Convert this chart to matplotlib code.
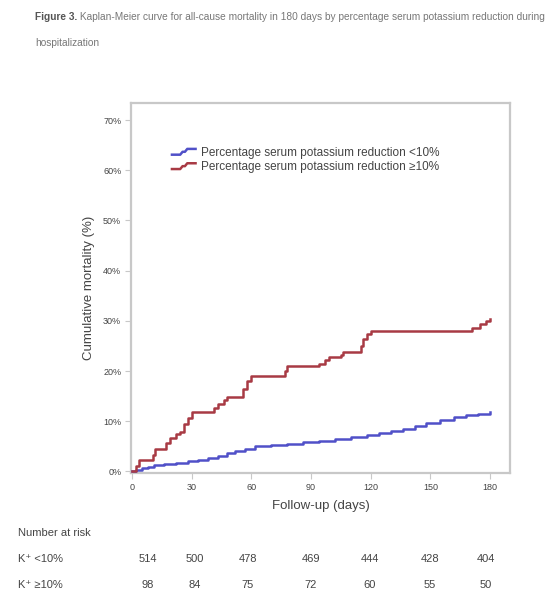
import matplotlib
matplotlib.use("Agg")
import matplotlib.pyplot as plt
from matplotlib.lines import Line2D
from matplotlib.legend_handler import HandlerBase

plt.rcParams['font.family'] = ['Liberation Sans', 'DejaVu Sans']

# Kaplan-Meier cumulative mortality (%) by follow-up day
blue_days = [0, 2, 5, 8, 11, 16, 22, 28, 33, 38, 43, 48, 52, 57, 62, 70, 78, 86, 94, 102,
             110, 118, 124, 130, 136, 142, 148, 155, 162, 168, 174, 180]
blue_pct = [0, 0.3, 0.6, 0.9, 1.2, 1.4, 1.7, 2.0, 2.3, 2.7, 3.1, 3.6, 4.1, 4.5, 5.0, 5.2, 5.5, 5.8, 6.1, 6.5,
            6.9, 7.3, 7.6, 8.0, 8.5, 9.1, 9.6, 10.2, 10.8, 11.2, 11.5, 11.8]

red_days = [0, 2, 3.5, 10.5, 11.5, 17, 19, 22, 24, 26, 28, 30, 41, 43, 46, 48, 56, 58, 60,
            77, 78, 94, 97, 99, 105, 106, 115, 116, 118, 120, 171, 175, 178, 180]
red_pct = [0, 1.1, 2.2, 3.2, 4.4, 5.6, 6.6, 7.5, 7.9, 9.5, 10.6, 11.9, 12.6, 13.5, 14.3, 14.8, 16.4, 18.0, 19.1,
           20.1, 21.0, 21.4, 22.2, 22.8, 23.2, 23.8, 25.0, 26.4, 27.3, 28.0, 28.6, 29.3, 30.0, 30.4]

series_labels = ["Percentage serum potassium reduction <10%",
                 "Percentage serum potassium reduction \u226510%"]
x_ticks = [0, 30, 60, 90, 120, 150, 180]
y_ticks = [0, 10, 20, 30, 40, 50, 60, 70]

risk_groups = ["K\u207a <10%", "K\u207a \u226510%"]
risk_blue = [514, 500, 478, 469, 444, 428, 404]
risk_red = [98, 84, 75, 72, 60, 55, 50]

caption_head = "Figure 3."
caption_1 = (" Kaplan-Meier curve for all-cause mortality in 180 days by percentage serum "
             "potassium reduction during")
caption_2 = "hospitalization"

blue = "#5050c8"
red = "#a83a44"
text_c = "#444444"
frame_c = "#c8c8c8"


class StepHandler(HandlerBase):
    """Legend key drawn as a small step, like a survival curve."""
    def create_artists(self, legend, orig_handle, xdescent, ydescent, width, height,
                       fontsize, trans):
        x0, x1 = -xdescent, -xdescent + width
        ylo, yhi = -ydescent + height * 0.15, -ydescent + height * 0.85
        xs = [x0, x0 + width * 0.35, x0 + width * 0.45, x0 + width * 0.55, x0 + width * 0.65, x1]
        ys = [ylo, ylo, (ylo + yhi) / 2, (ylo + yhi) / 2, yhi, yhi]
        ln = Line2D(xs, ys, color=orig_handle.get_color(), lw=orig_handle.get_linewidth(),
                    transform=trans)
        return [ln]


fig = plt.figure(figsize=(5.58, 5.96), dpi=100)
ax = fig.add_axes([131 / 558, 123 / 596, 379 / 558, 370 / 596])

ax.step(blue_days, blue_pct, where="post", color=blue, lw=1.8, zorder=3)
ax.step(red_days, red_pct, where="post", color=red, lw=1.8, zorder=3)

ax.set_xlim(-0.5, 190)
ax.set_ylim(-0.3, 73.4)
ax.set_xticks(x_ticks)
ax.set_xticklabels([str(t) for t in x_ticks])
ax.set_yticks(y_ticks)
ax.set_yticklabels([f"{t}%" for t in y_ticks])
ax.tick_params(axis="both", direction="out", length=4, width=0.8, color=frame_c,
               labelsize=6.5, labelcolor=text_c, pad=3)
for s in ax.spines.values():
    s.set_color(frame_c)
    s.set_linewidth(1.6)

ax.set_xlabel("Follow-up (days)", fontsize=9.5, color=text_c, labelpad=6)
ax.set_ylabel("Cumulative mortality (%)", fontsize=9.5, color=text_c, labelpad=6)

handles = [Line2D([], [], color=blue, lw=1.8), Line2D([], [], color=red, lw=1.8)]
leg = ax.legend(handles, series_labels, loc="upper left", bbox_to_anchor=(0.08, 0.91),
                fontsize=8.5, frameon=False, handlelength=2.0, handletextpad=0.5,
                labelspacing=0.2, labelcolor=text_c,
                handler_map={Line2D: StepHandler()})

# Caption
t0 = fig.text(35 / 558, 1 - 17 / 596, caption_head, fontsize=7.3, color="#555555",
              fontweight="bold", va="center", ha="left")
fig.canvas.draw()
bb = t0.get_window_extent()
fig.text(bb.x1 / fig.bbox.width, 1 - 17 / 596, caption_1, fontsize=7.3, color="#777777",
         va="center", ha="left")
fig.text(35 / 558, 1 - 43 / 596, caption_2, fontsize=7.3, color="#777777", va="center", ha="left")

# Number-at-risk table
fig.text(18 / 558, 1 - 533 / 596, "Number at risk", fontsize=8, color=text_c, va="center")
col_x = [148, 195, 248, 311, 370, 430, 486]
for row_y, label, vals in [(559, risk_groups[0], risk_blue), (585, risk_groups[1], risk_red)]:
    fig.text(18 / 558, 1 - row_y / 596, label, fontsize=8, color=text_c, va="center")
    for cx, v in zip(col_x, vals):
        fig.text(cx / 558, 1 - row_y / 596, str(v), fontsize=8, color=text_c,
                 va="center", ha="center")

fig.savefig("out.png", dpi=100, facecolor="white")
